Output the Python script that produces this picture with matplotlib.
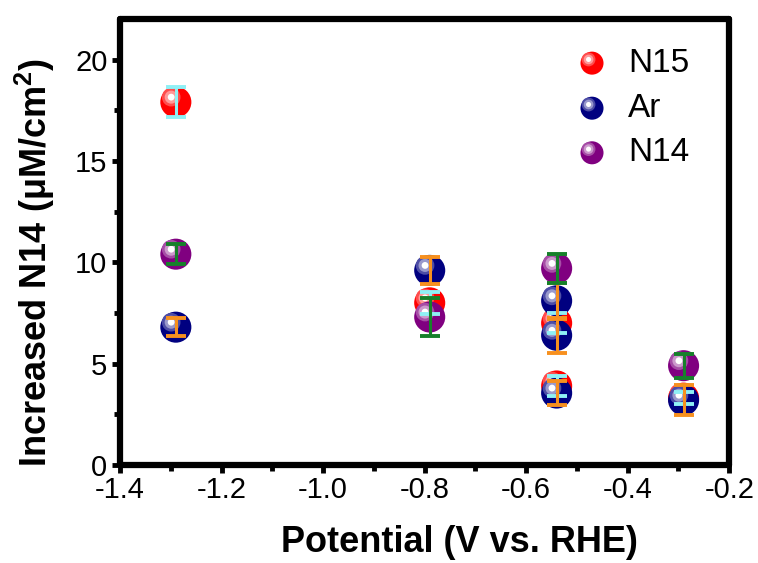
import matplotlib
matplotlib.use("Agg")
import matplotlib.pyplot as plt
import numpy as np
from matplotlib.colors import to_rgb
from matplotlib.transforms import offset_copy
from matplotlib.ticker import MultipleLocator

# data
n15_x = [-1.29, -0.79, -0.54, -0.54, -0.29]
n15_y = [17.9, 8.0, 7.0, 3.9, 3.3]
n15_err = [0.75, 0.55, 0.5, 0.5, 0.3]

ar_x = [-1.29, -0.79, -0.54, -0.54, -0.54, -0.29]
ar_y = [6.8, 9.6, 8.1, 6.4, 3.55, 3.2]
ar_err = [0.45, 0.65, 0.9, 0.85, 0.6, 0.75]

n14_x = [-1.29, -0.79, -0.54, -0.29]
n14_y = [10.4, 7.3, 9.7, 4.9]
n14_err = [0.5, 0.95, 0.7, 0.6]

labels = ["N15", "Ar", "N14"]
colors = ["#ff0000", "#000080", "#800080"]
err_colors = ["#8ff0f5", "#f7901e", "#16802a"]

plt.rcParams['font.family'] = ['Liberation Sans', 'DejaVu Sans']
plt.rcParams['mathtext.fontset'] = 'custom'
plt.rcParams['mathtext.rm'] = 'Liberation Sans'
plt.rcParams['mathtext.bf'] = 'Liberation Sans:bold'

fig = plt.figure(figsize=(7.58, 5.63), dpi=100)
ax = fig.add_axes([0.1583, 0.174, 0.8038, 0.7923])


def mix(c, t):
    r = np.array(to_rgb(c))
    return tuple(r + (1 - r) * t)


def sphere(ax, x, y, c, s, tr, z):
    # base disc plus a light spot up-left to fake the 3D ball look
    d = np.sqrt(s)
    ax.scatter(x, y, s=s, color=c, edgecolors='none', zorder=z, transform=tr)
    off = offset_copy(tr, fig=fig, x=-d * 0.15, y=d * 0.16, units='points')
    ax.scatter(x, y, s=(d * 0.6) ** 2, color=mix(c, 0.3), edgecolors='none', zorder=z + 0.1, transform=off)
    ax.scatter(x, y, s=(d * 0.42) ** 2, color=mix(c, 0.6), edgecolors='none', zorder=z + 0.2, transform=off)
    ax.scatter(x, y, s=(d * 0.22) ** 2, color='white', edgecolors='none', zorder=z + 0.3, transform=off)


series = [(n15_x, n15_y, n15_err), (ar_x, ar_y, ar_err), (n14_x, n14_y, n14_err)]
for i, (xs, ys, es) in enumerate(series):
    sphere(ax, xs, ys, colors[i], 500, ax.transData, 3 + i)

for i, (xs, ys, es) in enumerate(series):
    ax.errorbar(xs, ys, yerr=es, fmt='none', ecolor=err_colors[i], elinewidth=2.2,
                capsize=7, capthick=2.8, zorder=10)

# legend drawn by hand so the markers keep the ball look
leg_y = [0.901, 0.800, 0.700]
for i in range(3):
    sphere(ax, [0.7747], [leg_y[i]], colors[i], 275, ax.transAxes, 12)
    ax.text(0.834, leg_y[i], labels[i], transform=ax.transAxes, fontsize=24,
            va='center', ha='left')

ax.set_xlim(-1.4, -0.2)
ax.set_ylim(0, 22)
ax.xaxis.set_minor_locator(MultipleLocator(0.1))
ax.yaxis.set_minor_locator(MultipleLocator(2.5))
ax.set_xticks([-1.4, -1.2, -1.0, -0.8, -0.6, -0.4, -0.2])
ax.set_xticklabels(["-1.4", "-1.2", "-1.0", "-0.8", "-0.6", "-0.4", "-0.2"])
ax.set_yticks([0, 5, 10, 15, 20])

for sp in ax.spines.values():
    sp.set_linewidth(4.5)
    sp.set_capstyle('round')
ax.tick_params(which='major', direction='out', length=6, width=3.5, labelsize=21, pad=3)
ax.tick_params(axis='x', which='major', pad=2)
ax.tick_params(which='minor', direction='out', length=4, width=3.5)
ax.tick_params(top=False, right=False, which='both')

ax.set_xlabel("Potential (V vs. RHE)", fontsize=26, fontweight='bold')
ax.xaxis.set_label_coords(0.557, -0.135)
ax.set_ylabel(r"Increased N14 (μM/cm$^\mathbf{2}$)", fontsize=26, fontweight='bold')
ax.yaxis.set_label_coords(-0.104, 0.455)

fig.savefig("out.png", dpi=100)
